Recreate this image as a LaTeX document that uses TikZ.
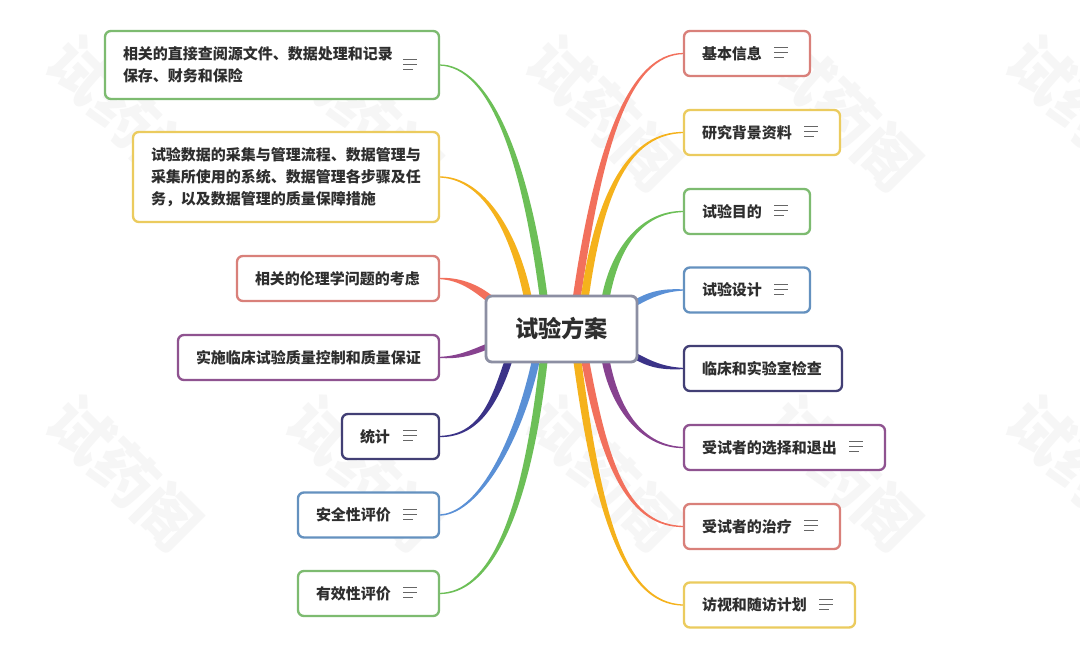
\documentclass[tikz,border=0pt]{standalone}
\usepackage{fontspec}
\setmainfont{Noto Sans CJK SC}
\usetikzlibrary{backgrounds,calc}
\definecolor{brgreen}{HTML}{6CBF57}
\definecolor{bryellow}{HTML}{F5B21C}
\definecolor{brsalmon}{HTML}{F2705C}
\definecolor{brpurple}{HTML}{87428F}
\definecolor{brnavy}{HTML}{3B3388}
\definecolor{brblue}{HTML}{5A90D6}
\definecolor{bdgreen}{HTML}{7DBB70}
\definecolor{bdyellow}{HTML}{EBCB5E}
\definecolor{bdsalmon}{HTML}{D9807A}
\definecolor{bdpurple}{HTML}{8F5390}
\definecolor{bdnavy}{HTML}{423F75}
\definecolor{bdblue}{HTML}{6491BF}
\definecolor{bdroot}{HTML}{8C8FA3}
\definecolor{wmark}{HTML}{F6F6F6}
\tikzset{
 box/.style n args={2}{draw=#1,fill=white,line width=2pt,rounded corners=5pt,outer sep=0pt,
  inner xsep=0.54cm,inner ysep=0pt,minimum height=1.35cm,text width=(#2-36)*0.03cm,align=left,
  text=black!82,font=\fontsize{12.8}{19}\selectfont\bfseries},
 rootbox/.style={draw=bdroot,fill=white,line width=2.4pt,rounded corners=5pt,outer sep=0pt,
  minimum width=4.53cm,minimum height=1.98cm,text=black!82,font=\fontsize{19.8}{24}\selectfont\bfseries},
 wmarktext/.style={text=wmark,rotate=-45,font=\fontsize{53}{53}\selectfont\bfseries},
 memo/.pic={
  \draw[black!60,line width=0.8pt](-7,-5)--(7,-5);
  \draw[black!60,line width=0.8pt](-7,0)--(7,0);
  \draw[black!60,line width=0.8pt](-7,5)--(3,5);
 }
}
\newcommand{\limb}[7]{\fill[#1]($(#2)+(#3)+(#4)$) .. controls +(#5) and ($(#7)+(#6)+(0,1.5)$) .. ($(#7)+(0,0.6)$)
 -- ($(#7)-(0,0.6)$) .. controls ($(#7)+(#6)-(0,1.5)$) and ($(#2)+(#3)-(#4)+(#5)$) .. ($(#2)+(#3)-(#4)$) -- cycle;}
\begin{document}
\begin{tikzpicture}[x=0.03cm,y=-0.03cm]
 \useasboundingbox (0,0) rectangle (1080,653);
 \node (root) [rootbox] at (561.5,329) {试验方案};
 \node (l1) [box={bdgreen}{334},anchor=east,minimum height=2.04cm] at (439,65) {相关的直接查阅源文件、数据处理和记录\\保存、财务和保险};
 \node (l2) [box={bdyellow}{306},anchor=east,minimum height=2.7cm] at (439,177) {试验数据的采集与管理流程、数据管理与\\采集所使用的系统、数据管理各步骤及任\\务，以及数据管理的质量保障措施};
 \node (l3) [box={bdsalmon}{202},anchor=east] at (439,278.5) {相关的伦理学问题的考虑};
 \node (l4) [box={bdpurple}{261},anchor=east] at (439,357.5) {实施临床试验质量控制和质量保证};
 \node (l5) [box={bdnavy}{97},anchor=east] at (439,436.5) {统计};
 \node (l6) [box={bdblue}{141},anchor=east] at (439,515) {安全性评价};
 \node (l7) [box={bdgreen}{141},anchor=east] at (439,593.5) {有效性评价};
 \node (r1) [box={bdsalmon}{126},anchor=west] at (684,53.5) {基本信息};
 \node (r2) [box={bdyellow}{156},anchor=west] at (684,132.5) {研究背景资料};
 \node (r3) [box={bdgreen}{126},anchor=west] at (684,211.5) {试验目的};
 \node (r4) [box={bdblue}{126},anchor=west] at (684,290) {试验设计};
 \node (r5) [box={bdnavy}{158},anchor=west] at (684,368.5) {临床和实验室检查};
 \node (r6) [box={bdpurple}{201},anchor=west] at (684,447.5) {受试者的选择和退出};
 \node (r7) [box={bdsalmon}{156},anchor=west] at (684,526.5) {受试者的治疗};
 \node (r8) [box={bdyellow}{171},anchor=west] at (684,605) {访视和随访计划};
 \foreach \n in {l1,l5,l6,l7,r1,r2,r3,r4,r6,r7,r8}
  \pic at ($(\n.east)+(-29,-1)$) {memo};
 \begin{scope}[on background layer]
  \fill[white](0,0) rectangle (1080,653);
  \begin{scope}
   \clip (0,0) rectangle (1080,653);
   \foreach \x in {125,365,605,845,1085}
    \foreach \y in {113,473}
     \node [wmarktext] at (\x,\y) {试药阁};
  \end{scope}
  \limb{brsalmon}{root.north}{15.5,0}{4,0}{22,-150}{-55,0}{r1.west}
  \limb{bryellow}{root.north}{23.5,0}{4,0}{15,-106}{-54,0}{r2.west}
  \limb{brgreen}{root.north}{44.5,0}{4,0}{9,-46}{-44,0}{r3.west}
  \limb{brblue}{root.east}{0,-27}{0,3.5}{15,-8}{-20,0}{r4.west}
  \limb{brnavy}{root.east}{0,28}{0,3.5}{15,8}{-20,0}{r5.west}
  \limb{brpurple}{root.south}{44.5,0}{-4,0}{10,50}{-40,0}{r6.west}
  \limb{brsalmon}{root.south}{24,0}{-4,0}{20,108}{-54,0}{r7.west}
  \limb{bryellow}{root.south}{16,0}{-4,0}{19,138}{-64,0}{r8.west}
  \limb{brgreen}{root.north}{-18,0}{-4,0}{-18,-136}{51,0}{l1.east}
  \limb{bryellow}{root.north}{-34,0}{-4,0}{-15,-71}{41,0}{l2.east}
  \limb{brsalmon}{root.north west}{4,3}{-2.5,3}{-15,-12}{20,0}{l3.east}
  \limb{brpurple}{root.west}{0,18}{0,3}{-15,6}{20,0}{l4.east}
  \limb{brnavy}{root.south}{-53.5,0}{4,0}{-14,42}{39,0}{l5.east}
  \limb{brblue}{root.south}{-26,0}{4,0}{-20,88}{36,0}{l6.east}
  \limb{brgreen}{root.south}{-18,0}{4,0}{-18,158}{50,0}{l7.east}
 \end{scope}
\end{tikzpicture}
\end{document}
